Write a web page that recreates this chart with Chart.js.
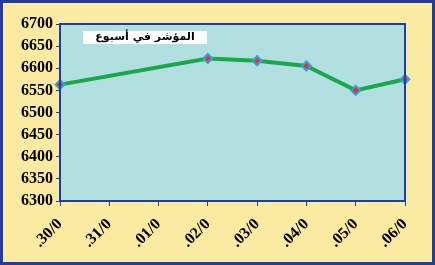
<!DOCTYPE html>
<html>
<head>
<meta charset="utf-8">
<script src="https://cdn.jsdelivr.net/npm/chart.js@4/dist/chart.umd.min.js"></script>
<style>
  html, body { margin: 0; padding: 0; background: #fbeba2; }
  #wrap { width: 435px; height: 265px; }
</style>
</head>
<body>
<div id="wrap"><canvas id="indexChart" width="435" height="265"></canvas></div>
<script>
// data
const days = [".30/0", ".31/0", ".01/0", ".02/0", ".03/0", ".04/0", ".05/0", ".06/0"];
const indexValues = [6563, null, null, 6622, 6617, 6605, 6550, 6575];
const yTicks = [6300, 6350, 6400, 6450, 6500, 6550, 6600, 6650, 6700];
const boxTitle = "المؤشر في أسبوع";

const frame = {
  id: "frame",
  beforeDraw(chart) {
    const c = chart.ctx, a = chart.chartArea;
    c.save();
    c.fillStyle = "#fbeba2";
    c.fillRect(0, 0, chart.width, chart.height);
    c.strokeStyle = "#1f3c9e";
    c.lineWidth = 3;
    c.strokeRect(1.5, 1.5, chart.width - 3, chart.height - 3);
    c.fillStyle = "#b2e0e1";
    c.fillRect(a.left, a.top, a.right - a.left, a.bottom - a.top);
    c.restore();
  },
  afterDatasetsDraw(chart) {
    const c = chart.ctx, a = chart.chartArea;
    c.save();
    c.strokeStyle = "#1f3c9e";
    c.lineWidth = 2;
    c.strokeRect(a.left, a.top, a.right - a.left, a.bottom - a.top);
    // title box inside the plot
    c.fillStyle = "#ffffff";
    c.fillRect(83, 31, 124, 13);
    c.fillStyle = "#000";
    c.font = "bold 11px 'DejaVu Sans'";
    c.textAlign = "center";
    c.textBaseline = "middle";
    c.direction = "rtl";
    c.fillText(boxTitle, 145, 37.5);
    c.restore();
  }
};

new Chart(document.getElementById("indexChart"), {
  type: "line",
  data: {
    labels: days,
    datasets: [{
      data: indexValues,
      spanGaps: true,
      borderColor: "#1aa84a",
      borderWidth: 4,
      tension: 0,
      pointStyle: "rectRot",
      pointRadius: 4.5,
      pointBackgroundColor: "#ee3030",
      pointBorderColor: "#2ea6d6",
      pointBorderWidth: 2
    }]
  },
  options: {
    responsive: false,
    animation: false,
    layout: { padding: { top: 24, right: 30, left: 0, bottom: 0 } },
    plugins: { legend: { display: false }, tooltip: { enabled: false } },
    scales: {
      x: {
        offset: false,
        grid: { display: true, drawOnChartArea: false, tickLength: 5, color: "#1f3c9e" },
        border: { display: false },
        ticks: {
          minRotation: 45, maxRotation: 45, autoSkip: false, padding: 9,
          color: "#000",
          font: { family: "Liberation Serif", size: 16, weight: "bold" }
        },
        afterFit(s) { s.height = 64; }
      },
      y: {
        min: 6300, max: 6700,
        afterBuildTicks(s) { s.ticks = yTicks.map(v => ({ value: v })); },
        grid: { display: true, drawOnChartArea: false, tickLength: 4, color: "#1f3c9e" },
        border: { display: false },
        ticks: {
          autoSkip: false, padding: 3, color: "#000",
          callback: v => String(v),
          font: { family: "Liberation Serif", size: 16, weight: "bold" }
        },
        afterFit(s) { s.width = 60; }
      }
    }
  },
  plugins: [frame]
});
</script>
</body>
</html>
